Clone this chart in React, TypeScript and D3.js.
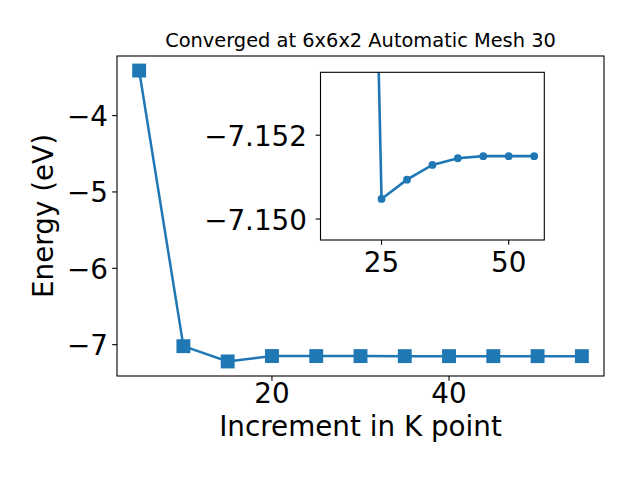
import React from "react";
import * as d3 from "d3";

const kPoints = [5, 10, 15, 20, 25, 30, 35, 40, 45, 50, 55];
const energies = [-3.41, -7.02, -7.22, -7.149, -7.1495, -7.1499, -7.1503, -7.1504, -7.1505, -7.1505, -7.1505];
const insetK = [15, 20, 25, 30, 35, 40, 45, 50, 55];
const insetE = [-7.22, -7.178, -7.15048, -7.15094, -7.15129, -7.15145, -7.1515, -7.1515, -7.1515];
const mainXTicks = [20, 40];
const mainYTicks = [-4, -5, -6, -7];
const insetXTicks = [25, 50];
const insetYTicks = [-7.152, -7.15];
const title = "Converged at 6x6x2 Automatic Mesh 30";
const xLabel = "Increment in K point";
const yLabel = "Energy (eV)";

const C = "#1f77b4";
const FONT = "DejaVu Sans";
const FS = 27.8;
const fmtMinus = (s: string) => s.replace("-", "\u2212");

export default function App() {
  const L = 117, R = 604, T = 56, B = 376;
  const yMin = d3.min(energies)!, yMax = d3.max(energies)!;
  const pad = (yMax - yMin) * 0.05;
  const x = d3.scaleLinear().domain([2.5, 57.5]).range([L, R]);
  const y = d3.scaleLinear().domain([yMin - pad, yMax + pad]).range([B, T]);
  const line = d3.line<number>().x((_, i) => x(kPoints[i])).y((d) => y(d));

  const iL = 320.5, iR = 544.3, iT = 72.3, iB = 240;
  const ix = d3.scaleLinear().domain([13, 57]).range([iL, iR]);
  const iy = d3.scaleLinear().domain([-7.1535, -7.1495]).range([iT, iB]);
  const iline = d3.line<number>().x((_, i) => ix(insetK[i])).y((d) => iy(d));
  const tl = 4.86;
  const ms = 13.9;

  return (
    <svg width={640} height={480} style={{ position: "absolute", left: 0, top: 0 }} fontFamily={FONT}>
      <rect width={640} height={480} fill="#fff" />
      <text x={(L + R) / 2} y={47} textAnchor="middle" fontSize={19.4}>{title}</text>
      {/* main */}
      <path d={line(energies)!} fill="none" stroke={C} strokeWidth={2.5} />
      {energies.map((e, i) => (
        <rect key={i} x={x(kPoints[i]) - ms / 2} y={y(e) - ms / 2} width={ms} height={ms} fill={C} />
      ))}
      <rect x={L} y={T} width={R - L} height={B - T} fill="none" stroke="#000" strokeWidth={1.1} />
      {mainXTicks.map((t) => (
        <g key={t}>
          <line x1={x(t)} x2={x(t)} y1={B} y2={B + tl} stroke="#000" strokeWidth={1.1} />
          <text x={x(t)} y={403} textAnchor="middle" fontSize={FS}>{t}</text>
        </g>
      ))}
      {mainYTicks.map((t) => (
        <g key={t}>
          <line x1={L - tl} x2={L} y1={y(t)} y2={y(t)} stroke="#000" strokeWidth={1.1} />
          <text x={108} y={y(t) + 10.5} textAnchor="end" fontSize={FS}>{fmtMinus(String(t))}</text>
        </g>
      ))}
      <text x={(L + R) / 2} y={436} textAnchor="middle" fontSize={FS}>{xLabel}</text>
      <text transform={`translate(53,${(T + B) / 2}) rotate(-90)`} textAnchor="middle" fontSize={FS}>{yLabel}</text>
      {/* inset */}
      <rect x={iL} y={iT} width={iR - iL} height={iB - iT} fill="#fff" />
      <defs>
        <clipPath id="ic"><rect x={iL} y={iT} width={iR - iL} height={iB - iT} /></clipPath>
      </defs>
      <g clipPath="url(#ic)">
        <path d={iline(insetE)!} fill="none" stroke={C} strokeWidth={2.6} />
        {insetE.map((e, i) => (
          <circle key={i} cx={ix(insetK[i])} cy={iy(e)} r={3.9} fill={C} />
        ))}
      </g>
      <rect x={iL} y={iT} width={iR - iL} height={iB - iT} fill="none" stroke="#000" strokeWidth={1.1} />
      {insetXTicks.map((t) => (
        <g key={t}>
          <line x1={ix(t)} x2={ix(t)} y1={iB} y2={iB + tl} stroke="#000" strokeWidth={1.1} />
          <text x={ix(t)} y={271.5} textAnchor="middle" fontSize={FS}>{t}</text>
        </g>
      ))}
      {insetYTicks.map((t) => (
        <g key={t}>
          <line x1={iL - tl} x2={iL} y1={iy(t)} y2={iy(t)} stroke="#000" strokeWidth={1.1} />
          <text x={307} y={iy(t) + 10.5} textAnchor="end" fontSize={FS}>{fmtMinus(t.toFixed(3))}</text>
        </g>
      ))}
    </svg>
  );
}
